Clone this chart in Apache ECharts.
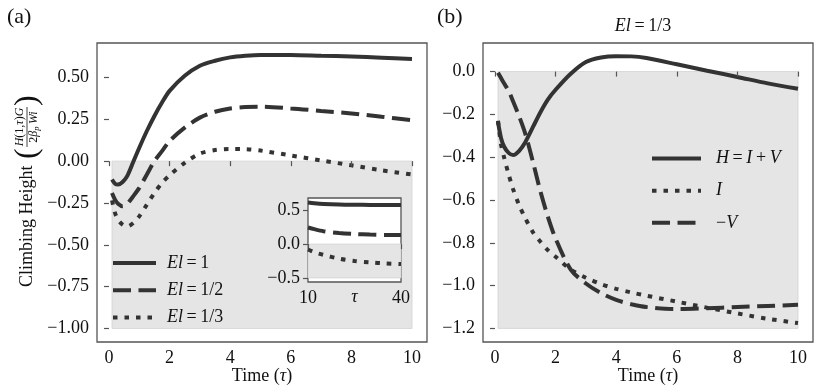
<!DOCTYPE html>
<html>
<head>
<meta charset="utf-8">
<script src="https://cdn.jsdelivr.net/npm/echarts@6/dist/echarts.min.js"></script>
<style>
  html, body { margin: 0; padding: 0; background: #fff; }
  #chart { width: 820px; height: 392px; }
</style>
</head>
<body>
<div id="chart"></div>
<script>
// time points (tau) for both main panels
const tau = [0.1, 0.2, 0.3, 0.45, 0.6, 0.8, 1.0, 1.25, 1.5, 1.75, 2.0, 2.5, 3.0, 3.5, 4.0, 4.5, 5.0, 6.0, 7.0, 8.0, 9.0, 10.0];

// panel (a): climbing height for El = 1, 1/2, 1/3
const hEl1 = [-0.11, -0.135, -0.14, -0.125, -0.09, -0.005, 0.08, 0.18, 0.27, 0.35, 0.42, 0.51, 0.57, 0.60, 0.62, 0.63, 0.635, 0.635, 0.63, 0.625, 0.618, 0.61];
const hEl2 = [-0.19, -0.23, -0.255, -0.27, -0.255, -0.21, -0.16, -0.08, 0.0, 0.06, 0.12, 0.20, 0.26, 0.295, 0.315, 0.323, 0.325, 0.315, 0.30, 0.285, 0.265, 0.245];
const hEl3 = [-0.235, -0.31, -0.35, -0.38, -0.39, -0.37, -0.33, -0.26, -0.19, -0.13, -0.085, -0.01, 0.045, 0.066, 0.072, 0.071, 0.063, 0.034, 0.004, -0.025, -0.055, -0.08];

// panel (b): El = 1/3, H = I + V
const hTotal = hEl3;
const iPart = [-0.23, -0.34, -0.40, -0.48, -0.55, -0.625, -0.685, -0.75, -0.795, -0.835, -0.865, -0.925, -0.963, -0.993, -1.015, -1.032, -1.047, -1.075, -1.103, -1.13, -1.155, -1.175];
const negV = [-0.005, -0.03, -0.055, -0.09, -0.14, -0.21, -0.29, -0.42, -0.56, -0.68, -0.78, -0.925, -0.99, -1.035, -1.067, -1.087, -1.10, -1.11, -1.106, -1.10, -1.095, -1.09];

// inset: long times
const tauLong = [10, 12, 15, 20, 25, 30, 35, 40];
const longEl1 = [0.612, 0.603, 0.593, 0.584, 0.58, 0.578, 0.577, 0.577];
const longEl2 = [0.245, 0.22, 0.19, 0.163, 0.148, 0.14, 0.135, 0.132];
const longEl3 = [-0.08, -0.12, -0.16, -0.215, -0.25, -0.27, -0.285, -0.295];

// ticks
const xTicks = [0, 2, 4, 6, 8, 10];
const yTicksA = [-1, -0.75, -0.5, -0.25, 0, 0.25, 0.5];
const yTicksB = [-1.2, -1.0, -0.8, -0.6, -0.4, -0.2, 0];
const insetXTicks = [10, 40];
const insetYTicks = [-0.5, 0, 0.5];

const serif = '"Liberation Serif", "Times New Roman", serif';
const ink = '#111';
const lineColor = '#333';
const frame = '#555';
const shade = '#e5e5e5';
const lw = 4;
const dashed = [18, 7.5];
const dotted = [4.5, 7];

const pairs = (xs, ys) => xs.map((x, i) => [x, ys[i]]);
const minus = s => s.replace('-', '\u2212');

function mkX(gridIndex, min, max, ticks, extra) {
  return Object.assign({
    type: 'value', gridIndex, min, max, z: 4,
    axisLine: { show: false },
    splitLine: { show: false },
    axisTick: { show: true, length: 5, customValues: ticks, lineStyle: { color: frame, width: 1.2 } },
    axisLabel: { customValues: ticks, color: ink, fontFamily: serif, fontSize: 18, margin: 7, formatter: v => String(v) }
  }, extra || {});
}
function mkY(gridIndex, min, max, ticks, digits, extra) {
  return Object.assign({
    type: 'value', gridIndex, min, max, z: 4,
    axisLine: { show: false },
    splitLine: { show: false },
    axisTick: { show: true, length: 5, customValues: ticks, lineStyle: { color: frame, width: 1.2 } },
    axisLabel: { customValues: ticks, color: ink, fontFamily: serif, fontSize: 18, margin: 8,
      formatter: v => minus(Number(v).toFixed(digits)) }
  }, extra || {});
}
function mkLine(name, xi, data, type, z) {
  return {
    name, type: 'line', xAxisIndex: xi, yAxisIndex: xi, data, smooth: 0.3,
    symbol: 'none', z: z || 2, silent: true,
    lineStyle: { color: lineColor, width: lw, type, cap: 'butt' },
    itemStyle: { color: lineColor }
  };
}
function shadeBox(x0, y0, x1, y1, z) {
  return {
    silent: true, z: z || 1,
    itemStyle: { color: shade, borderColor: '#d2d2d2', borderWidth: 0.8 },
    data: [[{ xAxis: x0, yAxis: y0 }, { xAxis: x1, yAxis: y1 }]]
  };
}

const nameRich = {
  i: { fontFamily: serif, fontStyle: 'italic', fontSize: 18, color: ink },
  n: { fontFamily: serif, fontSize: 18, color: ink },
  sa: { width: 6 },
  sb: { width: 10 }
};
const legendLabels = {
  'El = 1': '{sa|}{i|El}{n|\u2009=\u20091}',
  'El = 1/2': '{sa|}{i|El}{n|\u2009=\u20091/2}',
  'El = 1/3': '{sa|}{i|El}{n|\u2009=\u20091/3}',
  'H = I + V': '{sb|}{i|H}{n|\u2009=\u2009}{i|I}{n|\u2009+\u2009}{i|V}',
  'I': '{sb|}{i|I}',
  '\u2212V': '{sb|}{n|\u2212}{i|V}'
};

const fracRich = {
  i: { fontFamily: serif, fontStyle: 'italic', fontSize: 12, color: ink },
  n: { fontFamily: serif, fontSize: 12, color: ink },
  sub: { fontFamily: serif, fontStyle: 'italic', fontSize: 8.5, color: ink, verticalAlign: 'bottom', padding: [5, 0, 0, 0] }
};

const chart = echarts.init(document.getElementById('chart'), null, { renderer: 'canvas' });

const legendBase = {
  orient: 'vertical', padding: 0, itemHeight: 14,
  itemStyle: { opacity: 0 },
  lineStyle: { width: lw, color: lineColor },
  selectedMode: false,
  formatter: n => legendLabels[n],
  textStyle: { fontFamily: serif, fontSize: 18, color: ink, rich: nameRich }
};

const option = {
  animation: false,
  backgroundColor: '#fff',
  grid: [
    { left: 97, top: 43, width: 330, height: 299, show: true, borderColor: frame, borderWidth: 1.3, backgroundColor: 'transparent' },
    { left: 483, top: 43, width: 330, height: 299, show: true, borderColor: frame, borderWidth: 1.3, backgroundColor: 'transparent' },
    { left: 308, top: 198, width: 93, height: 84, show: true, borderColor: frame, borderWidth: 1.3, backgroundColor: '#fff', z: 3 }
  ],
  xAxis: [
    mkX(0, -0.395, 10.495, xTicks, {
      name: 'Time ({i|\u03c4})', nameLocation: 'middle', nameGap: 25, nameMoveOverlap: false,
      nameTextStyle: { fontFamily: serif, fontSize: 18, color: ink, rich: nameRich }
    }),
    mkX(1, -0.395, 10.495, xTicks, {
      name: 'Time ({i|\u03c4})', nameLocation: 'middle', nameGap: 25, nameMoveOverlap: false,
      nameTextStyle: { fontFamily: serif, fontSize: 18, color: ink, rich: nameRich }
    }),
    mkX(2, 10, 40, insetXTicks, {
      name: '{i|\u03c4}', nameLocation: 'middle', nameGap: 6, nameMoveOverlap: false,
      nameTextStyle: { fontFamily: serif, fontSize: 18, color: ink, rich: nameRich }
    })
  ],
  yAxis: [
    mkY(0, -1.081, 0.706, yTicksA, 2),
    mkY(1, -1.2635, 0.1335, yTicksB, 1),
    mkY(2, -0.56, 0.68, insetYTicks, 1)
  ],
  legend: [
    Object.assign({}, legendBase, {
      data: ['El = 1', 'El = 1/2', 'El = 1/3'],
      left: 111, top: 254, itemWidth: 43, itemGap: 9.2
    }),
    Object.assign({}, legendBase, {
      data: ['H = I + V', 'I', '\u2212V'],
      left: 650, top: 149.6, itemWidth: 49, itemGap: 14.1
    })
  ],
  series: [
    Object.assign(mkLine('El = 1', 0, pairs(tau, hEl1), 'solid'), { markArea: shadeBox(0.1, 0, 10, -1) }),
    mkLine('El = 1/2', 0, pairs(tau, hEl2), dashed),
    mkLine('El = 1/3', 0, pairs(tau, hEl3), dotted),

    Object.assign(mkLine('H = I + V', 1, pairs(tau, hTotal), 'solid'), { markArea: shadeBox(0.1, 0, 10, -1.2) }),
    mkLine('I', 1, pairs(tau, iPart), dotted),
    mkLine('\u2212V', 1, pairs(tau, negV), dashed),

    Object.assign(mkLine('long El = 1', 2, pairs(tauLong, longEl1), 'solid', 5), { markArea: shadeBox(10, 0, 40, -0.5, 4) }),
    mkLine('long El = 1/2', 2, pairs(tauLong, longEl2), dashed, 5),
    mkLine('long El = 1/3', 2, pairs(tauLong, longEl3), dotted, 5)
  ],
  graphic: [
    { type: 'text', x: 7, y: 17, style: { text: '(a)', font: '22px ' + serif, fill: ink, align: 'left', verticalAlign: 'middle', textAlign: 'left', textVerticalAlign: 'middle' } },
    { type: 'text', x: 437, y: 17, style: { text: '(b)', font: '22px ' + serif, fill: ink, align: 'left', verticalAlign: 'middle', textAlign: 'left', textVerticalAlign: 'middle' } },
    { type: 'text', x: 643, y: 26, style: {
      text: '{i|El}{n|\u2009=\u20091/3}', rich: nameRich, font: '18px ' + serif, fill: ink,
      align: 'center', verticalAlign: 'middle', textAlign: 'center', textVerticalAlign: 'middle' } },
    {
      type: 'group', x: 27, y: 287, rotation: Math.PI / 2,
      children: [
        { type: 'text', x: 0, y: 0, style: { text: 'Climbing Height', font: '18px ' + serif, fill: ink,
          align: 'left', verticalAlign: 'middle', textAlign: 'left', textVerticalAlign: 'middle' } },
        { type: 'text', x: 128, y: 1, style: { text: '(', font: '32px ' + serif, fill: ink,
          align: 'left', verticalAlign: 'middle', textAlign: 'left', textVerticalAlign: 'middle' } },
        { type: 'text', x: 160, y: -7, style: { text: '{i|H}{n|(1,}{i|\u03c4}{n|)}{i|G}', rich: fracRich, fill: ink,
          align: 'center', verticalAlign: 'middle', textAlign: 'center', textVerticalAlign: 'middle' } },
        { type: 'line', shape: { x1: 140, y1: 0, x2: 180, y2: 0 }, style: { stroke: ink, lineWidth: 0.8 } },
        { type: 'text', x: 160, y: 7, style: { text: '{n|2}{i|\u03b2}{sub|p}{i|\u2009Wi}', rich: fracRich, fill: ink,
          align: 'center', verticalAlign: 'middle', textAlign: 'center', textVerticalAlign: 'middle' } },
        { type: 'text', x: 181, y: 1, style: { text: ')', font: '32px ' + serif, fill: ink,
          align: 'left', verticalAlign: 'middle', textAlign: 'left', textVerticalAlign: 'middle' } }
      ]
    }
  ]
};

chart.setOption(option);
</script>
</body>
</html>
